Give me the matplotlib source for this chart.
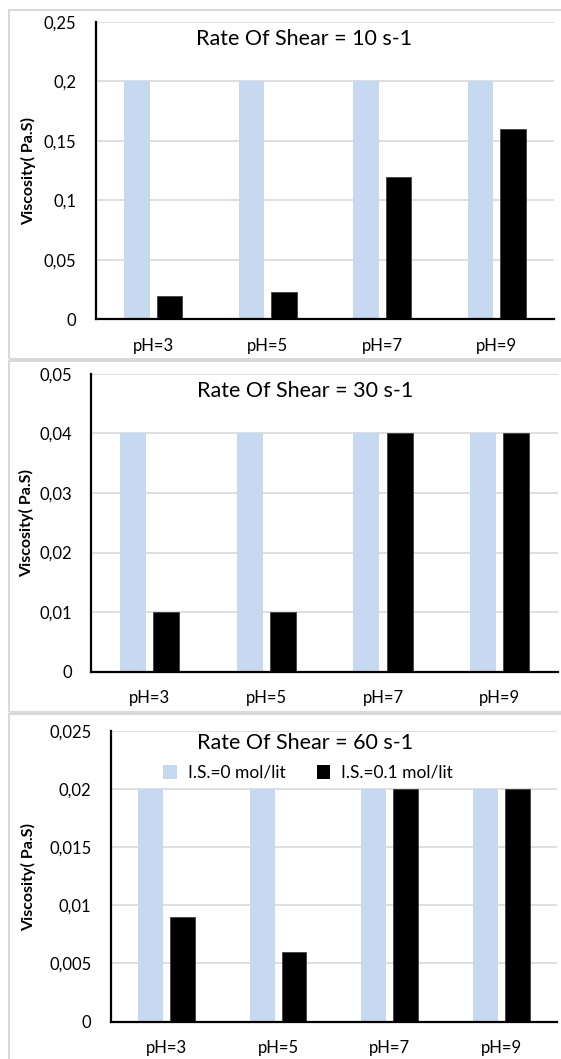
import matplotlib
matplotlib.use("Agg")
import matplotlib.pyplot as plt
from matplotlib.patches import Rectangle, Patch
import numpy as np

categories = ["pH=3", "pH=5", "pH=7", "pH=9"]
series_names = ["I.S.=0 mol/lit", "I.S.=0.1 mol/lit"]

shear10_is0 = [0.2, 0.2, 0.2, 0.2]
shear10_is01 = [0.02, 0.023, 0.12, 0.16]
shear30_is0 = [0.04, 0.04, 0.04, 0.04]
shear30_is01 = [0.01, 0.01, 0.04, 0.04]
shear60_is0 = [0.02, 0.02, 0.02, 0.02]
shear60_is01 = [0.009, 0.006, 0.02, 0.02]

titles = ["Rate Of Shear = 10 s-1", "Rate Of Shear = 30 s-1", "Rate Of Shear = 60 s-1"]
yticks_list = [
    [0, 0.05, 0.1, 0.15, 0.2, 0.25],
    [0, 0.01, 0.02, 0.03, 0.04, 0.05],
    [0, 0.005, 0.01, 0.015, 0.02, 0.025],
]
ytick_labels_list = [
    ["0", "0,05", "0,1", "0,15", "0,2", "0,25"],
    ["0", "0,01", "0,02", "0,03", "0,04", "0,05"],
    ["0", "0,005", "0,01", "0,015", "0,02", "0,025"],
]
ylabel = "Viscosity( Pa.S)"

plt.rcParams['font.family'] = ['Lato', 'DejaVu Sans']

W, H = 561, 1059
fig = plt.figure(figsize=(W / 100, H / 100), dpi=100)

LIGHT = "#c6d9f0"
GRID = "#d9d9d9"

# panel borders (pixel boxes: x0, y0, x1, y1)
for (x0, y0, x1, y1) in [(9, 10, 566, 359), (9, 361, 566, 712), (9, 714, 566, 1066)]:
    fig.patches.append(Rectangle((x0 / W, 1 - y1 / H), (x1 - x0) / W, (y1 - y0) / H,
                                 transform=fig.transFigure, fill=False,
                                 edgecolor=GRID, linewidth=1.5))

# axes boxes in pixels: left, right, top, bottom
boxes = [(96, 554, 22, 319.3), (91.2, 558, 373.7, 671.7), (110.9, 557, 731, 1021.5)]
title_pos = [(304, 39.3), (305, 391), (305, 743)]
ylabel_pos = [(28.6, 171), (27, 523), (28.6, 877)]
data = [(shear10_is0, shear10_is01), (shear30_is0, shear30_is01), (shear60_is0, shear60_is01)]

x = np.arange(len(categories))
bw = 0.223
off = 0.142

for i in range(3):
    l, r, t, b = boxes[i]
    ax = fig.add_axes([l / W, 1 - b / H, (r - l) / W, (b - t) / H])
    s0, s1 = data[i]
    ax.bar(x - off, s0, width=bw, color=LIGHT, zorder=2, label=series_names[0])
    ax.bar(x + off, s1, width=bw, color="black", edgecolor="#404040", linewidth=0.6,
           zorder=2, label=series_names[1])
    ax.set_xlim(-0.5, 3.5)
    ax.set_ylim(0, yticks_list[i][-1])
    ax.set_yticks(yticks_list[i])
    ax.set_yticklabels(ytick_labels_list[i])
    ax.set_xticks(x)
    ax.set_xticklabels(categories)
    ax.tick_params(axis='both', length=0, labelsize=12, colors="black")
    ax.tick_params(axis='y', pad=14)
    ax.tick_params(axis='x', pad=13.5)
    ax.grid(axis='y', color=GRID, linewidth=1.2, zorder=0)
    ax.set_axisbelow(True)
    for sp in ["top", "right"]:
        ax.spines[sp].set_visible(False)
    for sp in ["left", "bottom"]:
        ax.spines[sp].set_linewidth(1.6)
        ax.spines[sp].set_color("black")
        ax.spines[sp].set_zorder(3)
    tx, ty = title_pos[i]
    fig.text(tx / W, 1 - ty / H, titles[i], ha="center", va="center", fontsize=15.5)
    yx, yy = ylabel_pos[i]
    fig.text(yx / W, 1 - yy / H, ylabel, ha="center", va="center", rotation=90,
             fontsize=11.5, fontweight="bold")
    if i == 2:
        handles = [Patch(facecolor=LIGHT, edgecolor="none"), Patch(facecolor="black", edgecolor="none")]
        fig.legend(handles, series_names, loc="center", bbox_to_anchor=(308 / W, 1 - 773 / H),
                   ncol=2, frameon=False, fontsize=12.5, handlelength=0.8, handleheight=0.8,
                   handletextpad=0.6, columnspacing=1.8, borderpad=0)

fig.savefig("out.png", dpi=100)
